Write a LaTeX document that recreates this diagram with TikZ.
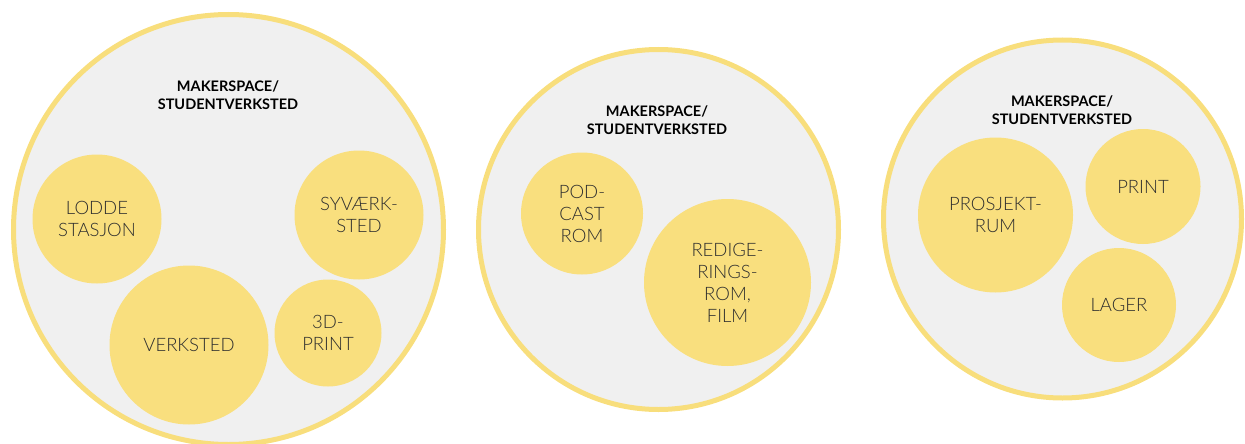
\documentclass[tikz,border=0pt]{standalone}
\usepackage{fontspec}
\setmainfont{Lato}
\newfontfamily\labelfont{Lato Light}
\begin{document}
\begin{tikzpicture}[x=1pt,y=-1pt,
  outer/.style={circle,draw=ringyellow,line width=5pt,fill=bggray,inner sep=0pt,minimum size=#1},
  room/.style={circle,fill=roomyellow,inner sep=0pt,minimum size=#1,align=center,
    text=labelgray,font=\labelfont\fontsize{18.5}{22}\selectfont},
  title/.style={align=center,font=\bfseries\fontsize{14.5}{18}\selectfont,text=black}]
\definecolor{ringyellow}{HTML}{F8DE7C}
\definecolor{roomyellow}{HTML}{F9DF7E}
\definecolor{bggray}{HTML}{F0F0F0}
\definecolor{labelgray}{HTML}{2E2E2E}
\useasboundingbox (0,0) rectangle (1245,444);
\clip (0,0) rectangle (1245,444);
% Circle 1
\node[outer=430pt] (c1) at (228.5,229.5) {};
\node[title] (t1) at (228,95) {MAKERSPACE/\\STUDENTVERKSTED};
\node[room=129pt] (lodde) at (97,219) {LODDE\\STASJON};
\node[room=129pt] (syv) at (359,215) {SYVÆRK-\\STED};
\node[room=159pt] (verk) at (189,345) {VERKSTED};
\node[room=107pt] (print3d) at (328,333) {3D-\\PRINT};
% Circle 2
\node[outer=360pt] (c2) at (658.5,229.5) {};
\node[title] (t2) at (657,120) {MAKERSPACE/\\STUDENTVERKSTED};
\node[room=122pt] (pod) at (582,213.5) {POD-\\CAST\\ROM};
\node[room=167pt] (redig) at (727.5,282.5) {REDIGE-\\RINGS-\\ROM,\\FILM};
% Circle 3
\node[outer=358pt] (c3) at (1062.5,219) {};
\node[title] (t3) at (1062,110) {MAKERSPACE/\\STUDENTVERKSTED};
\node[room=155pt] (prosj) at (995.5,215) {PROSJEKT-\\RUM};
\node[room=115pt] (print) at (1143,186.5) {PRINT};
\node[room=114pt] (lager) at (1119,305) {LAGER};
\end{tikzpicture}
\end{document}
